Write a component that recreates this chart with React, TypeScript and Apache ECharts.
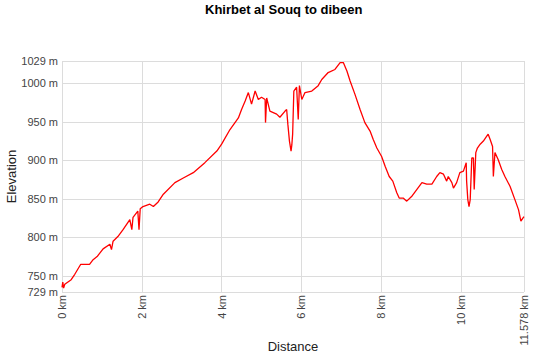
import React, { useEffect, useRef } from "react";
import * as echarts from "echarts";

const titleText = "Khirbet al Souq to dibeen";
const xName = "Distance";
const yName = "Elevation";

const distances: number[] = [
  0.0, 0.02, 0.04, 0.07, 0.23, 0.32, 0.47, 0.69, 0.78, 0.88, 1.03, 1.2, 1.24, 1.28, 1.4, 1.53,
  1.7, 1.75, 1.78, 1.9, 1.93, 1.96, 2.03, 2.2, 2.29, 2.41, 2.54, 2.83, 3.04, 3.29, 3.58, 3.88,
  4.0, 4.21, 4.42, 4.5, 4.59, 4.67, 4.75, 4.84, 4.92, 5.0, 5.09, 5.1, 5.13, 5.21, 5.38, 5.46,
  5.59, 5.63, 5.66, 5.7, 5.74, 5.76, 5.78, 5.81, 5.88, 5.92, 5.95, 6.01, 6.09, 6.26, 6.42, 6.51,
  6.67, 6.84, 6.97, 7.05, 7.14, 7.22, 7.34, 7.47, 7.59, 7.72, 7.8, 7.89, 8.01, 8.1, 8.2, 8.29,
  8.39, 8.45, 8.55, 8.64, 8.76, 8.89, 9.02, 9.14, 9.27, 9.39, 9.47, 9.56, 9.64, 9.68, 9.77, 9.81,
  9.89, 9.97, 10.06, 10.13, 10.14, 10.17, 10.2, 10.23, 10.27, 10.31, 10.33, 10.37, 10.41, 10.48,
  10.56, 10.64, 10.68, 10.73, 10.79, 10.81, 10.85, 10.93, 11.02, 11.1, 11.23, 11.35, 11.44, 11.5,
  11.55, 11.578,
];

const elevations: number[] = [
  735, 742, 734, 739, 745, 752, 765, 765, 771, 775, 785, 791, 784, 795, 801, 810,
  823, 810, 826, 834, 810, 837, 840, 843, 840, 846, 856, 871, 877, 884, 897, 912,
  921, 940, 955, 966, 977, 988, 973, 990, 979, 982, 979, 949, 981, 964, 960, 956,
  964, 966, 947, 925, 912, 920, 934, 990, 995, 953, 997, 979, 988, 990, 997, 1005,
  1014, 1018, 1027, 1027, 1016, 1003, 986, 966, 949, 938, 927, 916, 905, 892, 879, 873,
  858, 851, 851, 847, 853, 862, 871, 869, 869, 879, 884, 882, 873, 879, 871, 864,
  871, 884, 886, 897, 873, 849, 840, 849, 903, 903, 862, 910, 916, 921,
  925, 931, 934, 927, 918, 879, 910, 901, 888, 879, 866, 849, 836, 821,
  825, 827,
];

const xTicks: number[] = [0, 2, 4, 6, 8, 10, 11.578];
const yTicks: number[] = [729, 750, 800, 850, 900, 950, 1000, 1029];
const xMin = 0;
const xMax = 11.578;
const yMin = 729;
const yMax = 1029;

export default function App() {
  const ref = useRef<HTMLDivElement>(null);
  useEffect(() => {
    if (!ref.current) return;
    const chart = echarts.init(ref.current, undefined, { renderer: "svg" });
    const font = "Arial, 'Liberation Sans', sans-serif";
    const data = distances.map((d, i) => [d, elevations[i]]);
    chart.setOption({
      animation: false,
      backgroundColor: "#ffffff",
      textStyle: { fontFamily: font },
      title: {
        text: titleText,
        left: 205,
        top: 3,
        padding: 0,
        textStyle: { fontFamily: font, fontSize: 13, fontWeight: "bold", color: "#000" },
      },
      grid: {
        left: 62,
        right: 26,
        top: 61,
        bottom: 62,
        containLabel: false,
        outerBoundsMode: "none",
      },
      xAxis: {
        type: "value",
        min: xMin,
        max: xMax,
        name: xName,
        nameLocation: "middle",
        nameGap: 48,
        nameMoveOverlap: false,
        nameTextStyle: { fontFamily: font, fontSize: 13, color: "#222" },
        axisLine: { show: false },
        axisTick: { show: false, customValues: xTicks },
        axisLabel: {
          customValues: xTicks,
          rotate: 90,
          margin: 3,
          fontSize: 11,
          color: "#444",
          fontFamily: font,
          formatter: (v: number) => `${v} km`,
        },
        splitLine: { show: true, lineStyle: { color: "#dcdcdc", width: 1 } },
      },
      yAxis: {
        type: "value",
        min: yMin,
        max: yMax,
        name: yName,
        nameLocation: "middle",
        nameGap: 44,
        nameRotate: 90,
        nameMoveOverlap: false,
        nameTextStyle: { fontFamily: font, fontSize: 13, color: "#222" },
        axisLine: { show: false },
        axisTick: { show: false, customValues: yTicks },
        axisLabel: {
          customValues: yTicks,
          margin: 4,
          fontSize: 11,
          color: "#444",
          fontFamily: font,
          formatter: (v: number) => `${v} m`,
        },
        splitLine: { show: true, lineStyle: { color: "#dcdcdc", width: 1 } },
      },
      series: [
        {
          type: "line",
          data,
          symbol: "none",
          lineStyle: { color: "#ff0000", width: 1.3 },
          itemStyle: { color: "#ff0000" },
        },
      ],
    });
    return () => chart.dispose();
  }, []);
  return (
    <div
      ref={ref}
      style={{ position: "absolute", left: 0, top: 0, width: 550, height: 354 }}
    />
  );
}
